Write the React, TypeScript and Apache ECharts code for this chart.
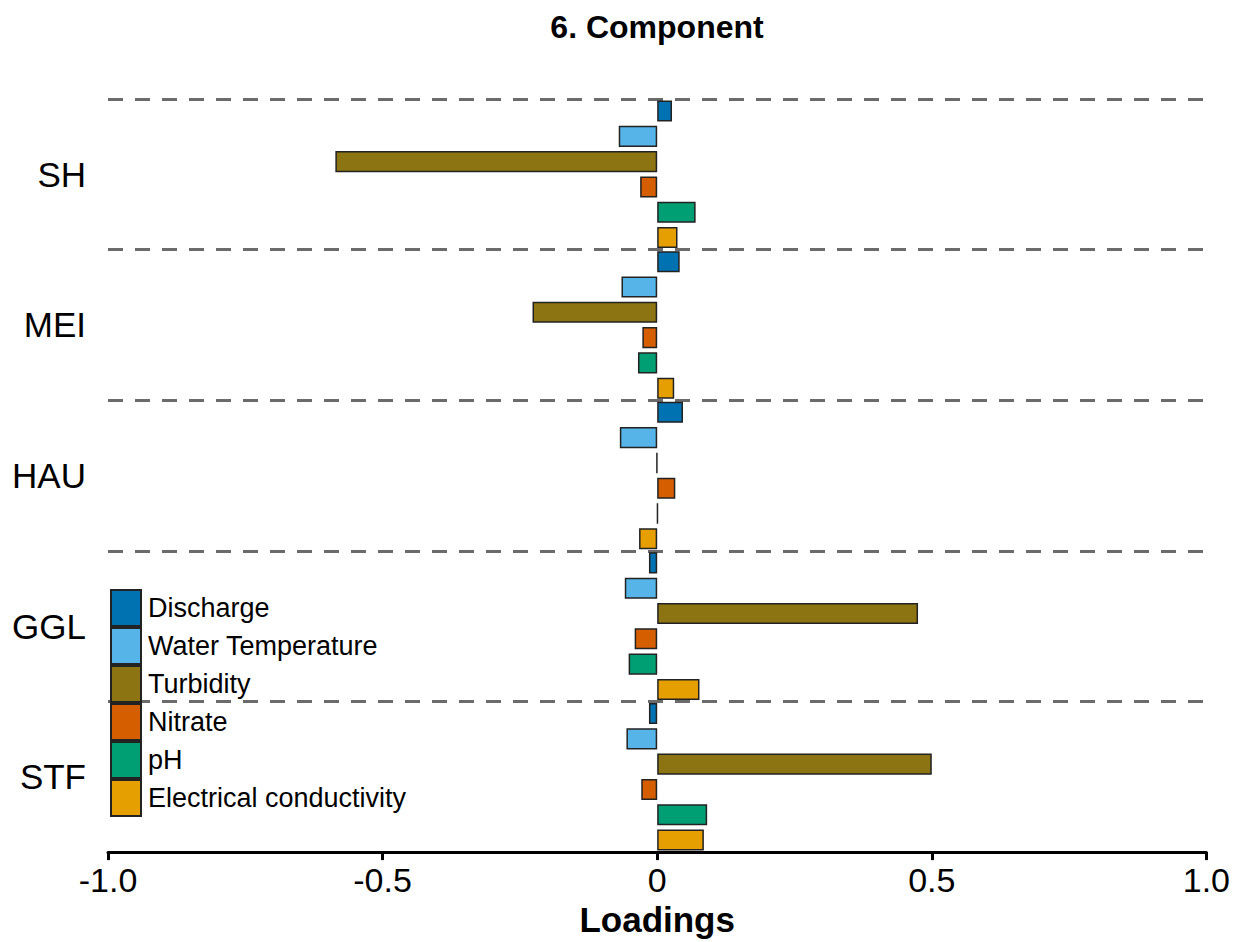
import React, { useEffect, useRef } from "react";
import * as echarts from "echarts";

const sites = ["SH", "MEI", "HAU", "GGL", "STF"];
const seriesNames = ["Discharge", "Water Temperature", "Turbidity", "Nitrate", "pH", "Electrical conductivity"];
const colors = ["#0072B2", "#56B4E9", "#8C7413", "#D55E00", "#009E73", "#E69F00"];

const discharge = [0.027, 0.041, 0.047, -0.015, -0.015];
const waterTemperature = [-0.07, -0.065, -0.068, -0.059, -0.056];
const turbidity = [-0.586, -0.227, -0.001, 0.475, 0.5];
const nitrate = [-0.031, -0.027, 0.033, -0.041, -0.029];
const pH = [0.07, -0.035, 0.001, -0.052, 0.091];
const electricalConductivity = [0.037, 0.031, -0.033, 0.077, 0.085];

const allValues = [discharge, waterTemperature, turbidity, nitrate, pH, electricalConductivity];

const FONT = "'Liberation Sans', Arial, sans-serif";

export default function App() {
  const ref = useRef<HTMLDivElement>(null);
  useEffect(() => {
    if (!ref.current) return;
    const chart = echarts.init(ref.current, undefined, { renderer: "svg" });
    chart.setOption({
      animation: false,
      backgroundColor: "#ffffff",
      textStyle: { fontFamily: FONT },
      title: {
        text: "6. Component",
        left: 657,
        textAlign: "center",
        top: 11,
        padding: 0,
        textStyle: { fontFamily: FONT, fontSize: 32, fontWeight: "bold", color: "#000" },
      },
      legend: {
        orient: "vertical",
        left: 110,
        top: 589,
        padding: 0,
        itemWidth: 30,
        itemHeight: 36,
        itemGap: 0,
        icon: "rect",
        textStyle: { fontFamily: FONT, fontSize: 27, color: "#000", padding: [0, 0, 0, 2] },
        data: seriesNames,
      },
      grid: { left: 108, right: 26, top: 99, bottom: 83 },
      xAxis: {
        type: "value",
        min: -1,
        max: 1,
        interval: 0.5,
        name: "Loadings",
        nameLocation: "middle",
        nameGap: 46,
        nameTextStyle: { fontFamily: FONT, fontSize: 35, fontWeight: "bold", color: "#000" },
        axisLine: { show: true, onZero: false, lineStyle: { color: "#000", width: 3 } },
        axisTick: { show: true, length: 8, lineStyle: { color: "#000", width: 3 } },
        axisLabel: {
          margin: 11,
          fontFamily: FONT,
          fontSize: 34,
          color: "#000",
          formatter: (v: number) => (v === 0 ? "0" : v.toFixed(1)),
        },
        splitLine: { show: false },
      },
      yAxis: {
        type: "category",
        data: sites,
        inverse: true,
        axisLine: { show: false },
        axisTick: { show: false },
        axisLabel: { margin: 22, fontFamily: FONT, fontSize: 35, color: "#000" },
        splitLine: { show: true, lineStyle: { color: "#6b6b6b", width: 3, type: [15, 12] } },
      },
      series: seriesNames.map((name, i) => ({
        name,
        type: "bar",
        data: allValues[i],
        barCategoryGap: "2%",
        barGap: "20%",
        itemStyle: { color: colors[i], borderColor: "#222", borderWidth: 1.5 },
      })),
    });
    return () => chart.dispose();
  }, []);
  return (
    <div
      ref={ref}
      style={{ position: "fixed", left: 0, top: 0, width: 1233, height: 942 }}
    />
  );
}
